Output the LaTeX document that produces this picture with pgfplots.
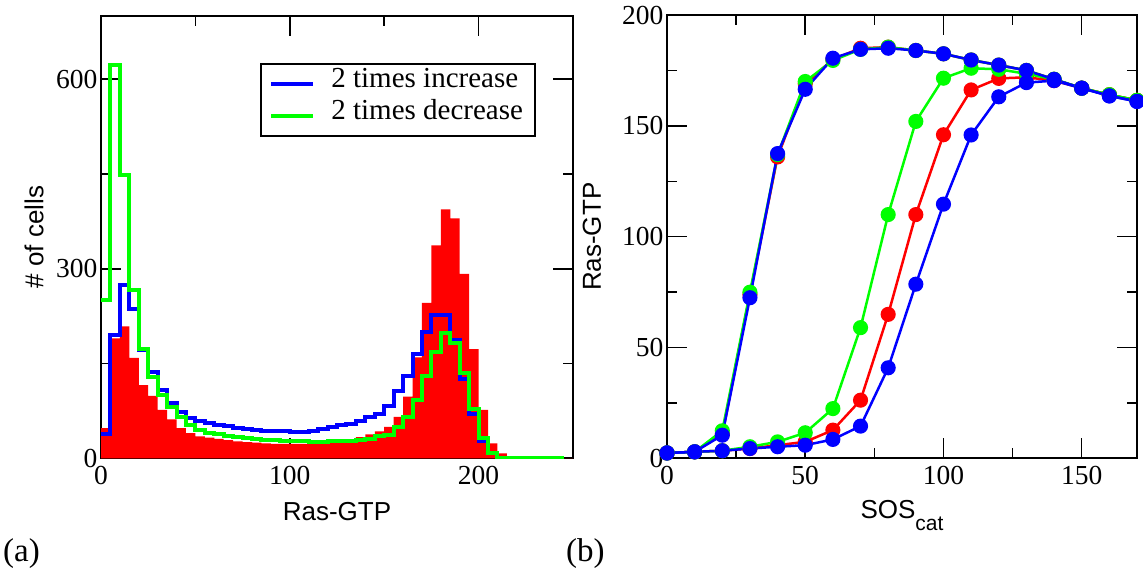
\documentclass[border=0pt]{standalone}
\usepackage{fontspec}
\setmainfont{Liberation Serif}
\setsansfont{Liberation Sans}
\usepackage{pgfplots}
\pgfplotsset{compat=1.18}
\definecolor{pr}{RGB}{255,0,0}
\definecolor{pg}{RGB}{0,255,0}
\definecolor{pb}{RGB}{0,0,255}
\pgfplotsset{
  myax/.style={
    scale only axis, anchor=south west,
    tick align=inside, major tick length=20pt, minor tick length=10pt,
    tick style={black, line width=1.5pt},
    axis line style={black, line width=2pt},
    /pgf/number format/assume math mode=true,
    xticklabel={\pgfmathprintnumber{\tick}},
    yticklabel={\pgfmathprintnumber{\tick}},
    tick label style={font=\rmfamily\fontsize{27.5}{27.5}\selectfont},
    xticklabel style={yshift=-4pt},
  },
}
\pgfplotstableread{
x red blue green
0 48 39 251
5 190 196 623
10 209 274 449
15 159 237 266
20 116 172 174
25 99 137 129
30 77 108 100
35 62 87 82
40 48 73 66
45 40 64 53
50 35 59 45
55 33 56 41
60 31 53 38
65 29 51 36
70 27 49 34
75 26 47 32
80 25 45 31
85 24 44 30
90 23 43 29
95 23 43 28
100 23 42 27
105 23 42 27
110 23 44 26
115 24 47 26
120 25 50 27
125 27 53 27
130 30 55 28
135 34 60 29
140 38 65 31
145 43 70 35
150 50 83 37
155 66 106 50
160 98 131 66
165 160 166 93
170 246 200 130
175 337 227 169
180 394 227 198
185 380 187 183
190 292 126 135
195 173 70 78
200 77 27 32
205 24 8 8
210 8 1 1
215 2 0 1
220 0 0 1
225 0 0 1
230 0 0 1
235 0 0 1
240 0 0 1
245 0 0 1
}\histdata
\pgfplotstableread{
x redup redlow greenup greenlow blueup bluelow
0 2.5 2.5 2.5 2.5 2.5 2.5
10 3 3 3 3 3 3
20 11 3.5 12.5 3.5 10.5 3.5
30 74 4.5 75 5.3 72.5 4.5
40 136 6 137 7.5 137.5 5.3
50 169 7.5 170 11.6 166.5 6
60 180 12.8 179.5 22.5 180.5 8.6
70 185 26.3 184.5 59 184.5 14.6
80 185.5 65 185.5 110 185 40.9
90 184 110 184 152 184 78.6
100 182.5 146 182.5 171.5 182.5 114.7
110 179.7 166.2 179.7 176 179.7 145.9
120 177.4 171.4 177.4 175.5 177.4 163.1
130 175 171.9 175 173.5 175 169.5
140 171 170.4 171 171 171 170.4
150 167 167 167 167 167 167
160 164 164 164 164 163.5 163.5
170 161.5 161.5 161.5 161.5 161 161
}\curvedata
\begin{document}
\begin{tikzpicture}[x=1pt,y=1pt]
\useasboundingbox (0,0) rectangle (1143,577);
\begin{axis}[myax,
  at={(101pt,118.5pt)}, width=472pt, height=442.5pt,
  xmin=0, xmax=250, ymin=0, ymax=700,
  xtick={0,100,200}, minor xtick={50,150},
  ytick={0,300,600}, minor ytick={150,450},
  xlabel={Ras-GTP}, ylabel={\# of cells},
  xlabel style={font=\sffamily\fontsize{26}{26}\selectfont, at={(axis description cs:0.5,-0.139)}, anchor=base},
  ylabel style={font=\sffamily\fontsize{26}{26}\selectfont, at={(axis description cs:-0.142,0.5)}, anchor=center},
  legend style={at={(0.9216,0.8938)}, anchor=north east, draw=black, line width=2pt,
    inner xsep=8pt, inner ysep=4pt, row sep=0pt,
    font=\rmfamily\fontsize{29}{29}\selectfont, cells={anchor=west},
    nodes={inner xsep=4pt, inner ysep=0pt, text height=20pt, text depth=12pt},
    /tikz/every odd column/.append style={column sep=12pt}},
]
\addplot[const plot, fill=pr, draw=none, forget plot] table[x=x, y=red] {\histdata} -- (axis cs:250,0) \closedcycle;
\addplot[const plot, pb, line width=4pt,
  legend image code/.code={\draw[pb, line width=4pt] (0pt,0pt) -- (42pt,0pt);}] table[x=x, y=blue] {\histdata};
\addlegendentry{2 times increase}
\addplot[const plot, pg, line width=4pt,
  legend image code/.code={\draw[pg, line width=4pt] (0pt,0pt) -- (42pt,0pt);}] table[x=x, y=green] {\histdata};
\addlegendentry{2 times decrease}
\end{axis}
\begin{axis}[myax,
  at={(667pt,118.5pt)}, width=470pt, height=443.5pt,
  xmin=0, xmax=170, ymin=0, ymax=200,
  xtick={0,50,100,150}, minor xtick={25,75,125},
  ytick={0,50,100,150,200}, minor ytick={25,75,125,175},
  clip=false,
  xlabel={SOS\raisebox{-12pt}{\fontsize{21}{21}\selectfont cat}}, ylabel={Ras-GTP},
  xlabel style={font=\sffamily\fontsize{26}{26}\selectfont, at={(axis description cs:0.5,-0.135)}, anchor=base},
  ylabel style={font=\sffamily\fontsize{26}{26}\selectfont, at={(axis description cs:-0.16,0.5)}, anchor=center},
  every axis plot/.append style={line width=2.5pt, mark=*, mark size=6.3pt, mark options={draw=none}},
]
\addplot[pr, mark options={fill=pr}] table[x=x, y=redup] {\curvedata};
\addplot[pr, mark options={fill=pr}] table[x=x, y=redlow] {\curvedata};
\addplot[pg, mark options={fill=pg}] table[x=x, y=greenup] {\curvedata};
\addplot[pg, mark options={fill=pg}] table[x=x, y=greenlow] {\curvedata};
\addplot[pb, mark options={fill=pb}] table[x=x, y=blueup] {\curvedata};
\addplot[pb, mark options={fill=pb}] table[x=x, y=bluelow] {\curvedata};
\end{axis}
\node[anchor=base west, inner sep=0pt, font=\rmfamily\fontsize{33}{33}\selectfont] at (3,15) {(a)};
\node[anchor=base west, inner sep=0pt, font=\rmfamily\fontsize{33}{33}\selectfont] at (566,15) {(b)};
\end{tikzpicture}
\end{document}
